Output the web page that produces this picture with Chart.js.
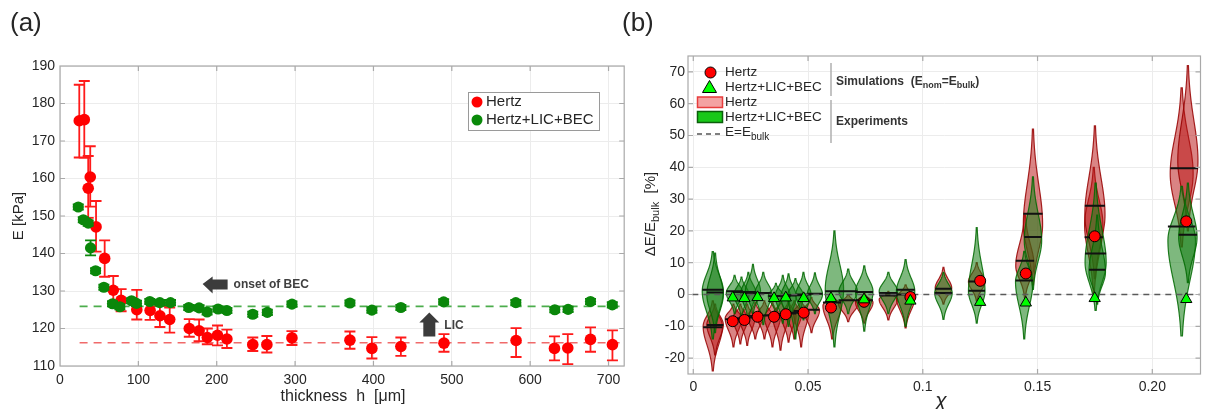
<!DOCTYPE html>
<html>
<head>
<meta charset="utf-8">
<script src="https://cdn.jsdelivr.net/npm/chart.js@4.4.1/dist/chart.umd.min.js"></script>
<style>
html, body { margin: 0; padding: 0; background: #fff; }
#wrap { position: relative; width: 1208px; height: 409px; overflow: hidden; }
.pane { position: absolute; top: 0; }
</style>
</head>
<body>
<div id="wrap">
  <div class="pane" style="left:0;width:630px;height:409px"><canvas id="chartA" width="630" height="409"></canvas></div>
  <div class="pane" style="left:620px;width:588px;height:409px"><canvas id="chartB" width="588" height="409"></canvas></div>
</div>
<script>
// ---------- panel (a) data ----------
var hertzH  = [24.6, 31, 36, 38.6, 46, 57, 68, 78, 98, 115, 127.5, 140, 165, 177.5, 188, 201, 213, 246, 264, 296, 370, 398, 435, 490, 582, 631, 648, 677, 705];
var hertzE  = [175.4, 175.7, 157.4, 160.4, 147.1, 138.7, 130.2, 127.5, 125.0, 124.8, 123.4, 122.4, 120.0, 119.4, 117.6, 118.2, 117.2, 115.7, 115.7, 117.5, 116.9, 114.7, 115.2, 116.1, 116.8, 114.7, 114.8, 117.1, 115.7];
var hertzLo = [165.6, 165.5, 149.5, 152.5, 140.5, 133.8, 126.5, 124.6, 122.4, 122.3, 120.4, 118.9, 117.8, 116.6, 115.8, 115.5, 114.8, 114.0, 113.6, 115.6, 114.6, 112.0, 112.7, 113.8, 112.4, 111.5, 110.5, 113.8, 111.5];
var hertzHi = [185.0, 186.0, 166.0, 168.6, 154.0, 143.5, 134.0, 130.5, 130.3, 126.9, 126.1, 125.6, 122.5, 122.4, 120.0, 120.8, 119.7, 117.6, 118.0, 119.3, 119.2, 117.7, 117.6, 118.5, 120.1, 117.9, 118.5, 120.3, 119.5];

var licH   = [23.3, 29.7, 36, 39, 45.4, 56, 67, 76.4, 91.3, 97.6, 114.6, 127.4, 141, 164.3, 177.5, 187.7, 201.7, 213, 246, 264.6, 296, 370, 398, 435, 489.6, 581.7, 631.4, 648.4, 677, 704.8];
var licE   = [152.4, 149.0, 148.1, 141.5, 135.4, 131.0, 126.6, 125.8, 127.4, 126.7, 127.2, 126.9, 126.9, 125.6, 125.5, 124.4, 125.2, 124.8, 123.8, 124.3, 126.5, 126.8, 124.9, 125.6, 127.1, 126.9, 125.0, 125.1, 127.2, 126.3];
var licErr = [0.7, 0.7, 0.7, 2.0, 0.7, 0.7, 0.7, 0.7, 0.7, 0.7, 0.7, 0.7, 0.7, 0.7, 0.7, 0.7, 0.7, 0.7, 0.7, 0.7, 0.7, 0.7, 0.7, 0.7, 0.7, 0.7, 0.7, 0.7, 0.7, 0.7];

var hertzBulk = 116.2;
var licBulk = 125.9;
var bulkRange = [25, 720];
var xTicksA = [0, 100, 200, 300, 400, 500, 600, 700];
var yTicksA = [110, 120, 130, 140, 150, 160, 170, 180, 190];

// ---------- panel (b) data ----------
var simChi   = [0.0172, 0.0223, 0.028, 0.0352, 0.0403, 0.0481, 0.060, 0.0744, 0.0946, 0.125, 0.1449, 0.1749, 0.2148];
var simHertz = [-8.4, -8.0, -7.0, -7.0, -6.2, -5.7, -4.1, -2.3, -0.8, 4.3, 6.6, 18.3, 23.0];
var simLic   = [-1.0, -1.2, -0.9, -1.2, -1.0, -1.2, -1.2, -1.6, -2.0, -2.4, -2.6, -1.2, -1.5];

// violins: [chi, min, max, mode, half width (chi units), median]
var hertzViolins = [
  [0.0085, -24, -2, -10, 0.0042, -10.3],
  [0.0095, -19, -3, -9.5, 0.0036, -9.6],
  [0.0175, -16.5, -3, -7.5, 0.0036, -7.8],
  [0.0205, -15.5, -3, -7.5, 0.0033, -7.5],
  [0.0235, -16, -3, -7.5, 0.0033, -7.2],
  [0.027, -14, -2.5, -7, 0.0033, -6.8],
  [0.031, -14, -2, -6.5, 0.0033, -6.6],
  [0.0345, -16.5, -2.5, -7, 0.0035, -6.5],
  [0.038, -17.5, -2, -6.5, 0.0035, -6.2],
  [0.0415, -15, -2, -6.5, 0.0033, -6.0],
  [0.044, -14, -2, -6, 0.0033, -5.7],
  [0.047, -16.5, -2, -5.5, 0.0033, -5.2],
  [0.0515, -12, -1, -5, 0.0035, -4.8],
  [0.0605, -14, 0, -3.5, 0.0040, -2.5],
  [0.0675, -8.5, 0, -3, 0.0042, -1.8],
  [0.0745, -9, 0.5, -2.5, 0.0038, -1.8],
  [0.085, -8, 1, -1.5, 0.0040, -0.3],
  [0.0925, -10.5, 3, -1, 0.0040, 0],
  [0.109, -3, 8.5, 2, 0.0036, 1.8],
  [0.1235, -2, 10, 4, 0.0036, 4.1],
  [0.1445, -1, 25, 9, 0.0040, 10.6],
  [0.148, 3, 52, 22, 0.0042, 25.4],
  [0.1745, 0, 40, 22, 0.0040, 18],
  [0.175, 5, 53, 25, 0.0044, 27.9],
  [0.2128, 15, 65, 38, 0.0050, 39.7],
  [0.2155, 20, 72, 42, 0.0044, 39.7]
];
var licViolins = [
  [0.0085, -14, 13.5, 1, 0.0046, 1.5],
  [0.0095, -12, 13, 0, 0.0036, 0.6],
  [0.018, -6, 6, 0.5, 0.0036, 1],
  [0.021, -7, 5.5, 0, 0.0033, 0.8],
  [0.024, -8, 7, 0.5, 0.0033, 0.8],
  [0.026, -6, 9.5, 1, 0.0033, 0.5],
  [0.0305, -9.5, 7, 0.5, 0.0036, 0.5],
  [0.036, -6, 3.5, -0.5, 0.0033, -0.5],
  [0.039, -9, 6, -0.5, 0.0033, -0.5],
  [0.0415, -10, 6.5, -0.5, 0.0033, -0.3],
  [0.0445, -14, 5, 0, 0.0033, -0.2],
  [0.048, -8, 7, 0, 0.0033, 0],
  [0.053, -6, 6.8, 0, 0.0033, 0.2],
  [0.0615, -16.5, 20, 1.5, 0.0040, 1],
  [0.0675, -6, 8, 1, 0.0040, 1],
  [0.0745, -11.5, 9, 1, 0.0038, 0.8],
  [0.085, -6, 7, 1, 0.0040, 0.5],
  [0.0925, -10, 11, 1, 0.0040, 1.5],
  [0.109, -7.8, 7, 0.5, 0.0038, 0.5],
  [0.1235, -9, 21, 1, 0.0036, 1.2],
  [0.1442, -14, 13.6, 4, 0.0038, 4.4],
  [0.148, 1.6, 37, 17, 0.0038, 18.1],
  [0.1753, -5, 35, 10, 0.0046, 12.9],
  [0.176, -3, 25, 7, 0.0036, 7.8],
  [0.2128, -13, 34, 17, 0.0060, 21.4],
  [0.2155, 3.7, 35, 18, 0.0040, 18.8]
];
var xTicksB = [0, 0.05, 0.1, 0.15, 0.2];
var xTickLabelsB = ['0', '0.05', '0.1', '0.15', '0.20'];
var yTicksB = [-20, -10, 0, 10, 20, 30, 40, 50, 60, 70];

var FONT = "'Liberation Sans', Arial, sans-serif";
var TXT = '#262626';
Chart.defaults.font.family = FONT;
Chart.defaults.color = TXT;

function pts(xs, ys) {
    return xs.map(function (x, i) { return { x: x, y: ys[i] }; });
}

function richText(ctx, parts, x, y, size, weight) {
    var cx = x;
    parts.forEach(function (p) {
        var sub = p[1];
        ctx.font = weight + ' ' + (sub ? Math.round(size * 0.72) : size) + 'px ' + FONT;
        ctx.fillText(p[0], cx, sub ? y + size * 0.32 : y);
        cx += ctx.measureText(p[0]).width;
    });
    return cx - x;
}

function richWidth(ctx, parts, size, weight) {
    var w = 0;
    parts.forEach(function (p) {
        ctx.font = weight + ' ' + (p[1] ? Math.round(size * 0.72) : size) + 'px ' + FONT;
        w += ctx.measureText(p[0]).width;
    });
    return w;
}

function drawBox(chart, xt, yt) {
    var a = chart.chartArea, ctx = chart.ctx;
    var xs = chart.scales.x, ys = chart.scales.y;
    ctx.save();
    ctx.strokeStyle = '#a9a9a9';
    ctx.lineWidth = 1.2;
    ctx.strokeRect(a.left, a.top, a.right - a.left, a.bottom - a.top);
    ctx.beginPath();
    xt.forEach(function (v) {
        var px = xs.getPixelForValue(v);
        if (px <= a.left + 1 || px >= a.right - 1) return;
        ctx.moveTo(px, a.top); ctx.lineTo(px, a.top + 5);
        ctx.moveTo(px, a.bottom); ctx.lineTo(px, a.bottom - 5);
    });
    yt.forEach(function (v) {
        var py = ys.getPixelForValue(v);
        if (py <= a.top + 1 || py >= a.bottom - 1) return;
        ctx.moveTo(a.left, py); ctx.lineTo(a.left + 5, py);
        ctx.moveTo(a.right, py); ctx.lineTo(a.right - 5, py);
    });
    ctx.stroke();
    ctx.restore();
}

// error bars drawn just before their own dataset
var errorBars = {
    id: 'errorBars',
    beforeDatasetDraw: function (chart, args) {
        var ds = chart.data.datasets[args.index];
        if (!ds.errLo) return;
        var ctx = chart.ctx, ys = chart.scales.y;
        ctx.save();
        ctx.strokeStyle = ds.errColor;
        ctx.lineWidth = 1.8;
        ctx.beginPath();
        args.meta.data.forEach(function (el, i) {
            var y1 = ys.getPixelForValue(ds.errLo[i]);
            var y2 = ys.getPixelForValue(ds.errHi[i]);
            ctx.moveTo(el.x, y1); ctx.lineTo(el.x, y2);
            ctx.moveTo(el.x - ds.capW, y1); ctx.lineTo(el.x + ds.capW, y1);
            ctx.moveTo(el.x - ds.capW, y2); ctx.lineTo(el.x + ds.capW, y2);
        });
        ctx.stroke();
        ctx.restore();
    }
};

var decorA = {
    id: 'decorA',
    afterDraw: function (chart) {
        var ctx = chart.ctx, xs = chart.scales.x, ys = chart.scales.y;
        drawBox(chart, xTicksA, yTicksA);
        ctx.save();
        ctx.fillStyle = TXT;

        // panel letter
        ctx.font = '26px ' + FONT;
        ctx.fillText('(a)', 10, 31);
        ctx.textBaseline = 'middle';

        // axis titles
        ctx.font = '16px ' + FONT;
        ctx.textAlign = 'center';
        ctx.fillText('thickness  h  [\u03bcm]', 343, 397);
        ctx.save();
        ctx.translate(19, 216);
        ctx.rotate(-Math.PI / 2);
        ctx.font = '15px ' + FONT;
        ctx.fillText('E [kPa]', 0, 0);
        ctx.restore();
        ctx.textAlign = 'left';

        // onset of BEC arrow (left)
        var tx = xs.getPixelForValue(182), ty = ys.getPixelForValue(131.9);
        ctx.fillStyle = '#3c3c3c';
        ctx.beginPath();
        ctx.moveTo(tx, ty);
        ctx.lineTo(tx + 10, ty - 7.5);
        ctx.lineTo(tx + 10, ty - 4.5);
        ctx.lineTo(tx + 25, ty - 4.5);
        ctx.lineTo(tx + 25, ty + 5.5);
        ctx.lineTo(tx + 10, ty + 5.5);
        ctx.lineTo(tx + 10, ty + 9.5);
        ctx.closePath();
        ctx.fill();
        ctx.fillStyle = '#404040';
        ctx.font = 'bold 12px ' + FONT;
        ctx.fillText('onset of BEC', tx + 31, ty + 1);

        // LIC arrow (up)
        var ux = xs.getPixelForValue(471.3), uy = ys.getPixelForValue(124.3);
        ctx.fillStyle = '#3c3c3c';
        ctx.beginPath();
        ctx.moveTo(ux, uy);
        ctx.lineTo(ux + 10, uy + 10);
        ctx.lineTo(ux + 6, uy + 10);
        ctx.lineTo(ux + 6, uy + 24);
        ctx.lineTo(ux - 6, uy + 24);
        ctx.lineTo(ux - 6, uy + 10);
        ctx.lineTo(ux - 10, uy + 10);
        ctx.closePath();
        ctx.fill();
        ctx.fillStyle = '#404040';
        ctx.fillText('LIC', ux + 15, uy + 13);

        // legend
        ctx.fillStyle = '#fff';
        ctx.fillRect(468, 92, 131, 38);
        ctx.strokeStyle = '#9a9a9a';
        ctx.lineWidth = 1;
        ctx.strokeRect(468.5, 92.5, 131, 38);
        ctx.fillStyle = '#ff0000';
        ctx.beginPath(); ctx.arc(477, 102, 5.5, 0, Math.PI * 2); ctx.fill();
        ctx.fillStyle = '#0a8a0a';
        ctx.beginPath(); ctx.arc(477, 120, 5.5, 0, Math.PI * 2); ctx.fill();
        ctx.fillStyle = TXT;
        ctx.font = '15px ' + FONT;
        ctx.fillText('Hertz', 486, 102);
        ctx.fillText('Hertz+LIC+BEC', 486, 120);
        ctx.restore();
    }
};

new Chart(document.getElementById('chartA').getContext('2d'), {
    type: 'scatter',
    data: {
        datasets: [{
            label: 'Hertz',
            data: pts(hertzH, hertzE),
            pointRadius: 5.8,
            backgroundColor: '#ff0000',
            borderWidth: 0,
            errLo: hertzLo,
            errHi: hertzHi,
            errColor: '#ff1a1a',
            capW: 5.5,
            order: 5
        }, {
            label: 'Hertz+LIC+BEC',
            data: pts(licH, licE),
            pointRadius: 5.6,
            backgroundColor: '#0a870a',
            borderWidth: 0,
            errLo: licE.map(function (v, i) { return v - licErr[i]; }),
            errHi: licE.map(function (v, i) { return v + licErr[i]; }),
            errColor: '#0a870a',
            capW: 5.5,
            order: 1
        }, {
            label: 'Hertz bulk',
            data: pts(bulkRange, [hertzBulk, hertzBulk]),
            showLine: true,
            pointRadius: 0,
            borderColor: '#f06a6a',
            borderWidth: 1.6,
            borderDash: [8, 6],
            order: 10
        }, {
            label: 'LIC bulk',
            data: pts(bulkRange, [licBulk, licBulk]),
            showLine: true,
            pointRadius: 0,
            borderColor: '#4cad4c',
            borderWidth: 1.6,
            borderDash: [8, 6],
            order: 10
        }]
    },
    options: {
        responsive: false,
        animation: false,
        events: [],
        layout: { padding: { left: 0, top: 66, right: 5, bottom: 0 } },
        plugins: { legend: { display: false }, tooltip: { enabled: false } },
        scales: {
            x: {
                type: 'linear', min: 0, max: 720,
                afterBuildTicks: function (s) { s.ticks = xTicksA.map(function (v) { return { value: v }; }); },
                afterFit: function (s) { s.height = 43; },
                ticks: { font: { size: 14 }, color: TXT, padding: 6, maxRotation: 0 },
                grid: { color: '#ececec', drawTicks: false },
                border: { display: false }
            },
            y: {
                type: 'linear', min: 110, max: 190,
                afterBuildTicks: function (s) { s.ticks = yTicksA.map(function (v) { return { value: v }; }); },
                afterFit: function (s) { s.width = 60; },
                ticks: { font: { size: 14 }, color: TXT, padding: 5 },
                grid: { color: '#ececec', drawTicks: false },
                border: { display: false }
            }
        }
    },
    plugins: [errorBars, decorA]
});

// ---------- panel (b) ----------
function violinPath(ctx, xs, ys, v) {
    var cx = v[0], lo = v[1], hi = v[2], mode = v[3], w = v[4];
    var n = 70, i, val, s, z, hw, left = [], right = [];
    for (i = 0; i <= n; i++) {
        val = lo + (hi - lo) * i / n;
        s = (val < mode ? (mode - lo) : (hi - mode)) / 2.4;
        z = s > 0 ? (val - mode) / s : 0;
        hw = w * Math.exp(-0.5 * z * z);
        var py = ys.getPixelForValue(val);
        right.push([xs.getPixelForValue(cx + hw), py]);
        left.push([xs.getPixelForValue(cx - hw), py]);
    }
    ctx.beginPath();
    right.forEach(function (p, k) { if (k === 0) ctx.moveTo(p[0], p[1]); else ctx.lineTo(p[0], p[1]); });
    for (i = left.length - 1; i >= 0; i--) ctx.lineTo(left[i][0], left[i][1]);
    ctx.closePath();
}

var violins = {
    id: 'violins',
    beforeDatasetsDraw: function (chart) {
        var ctx = chart.ctx, xs = chart.scales.x, ys = chart.scales.y, a = chart.chartArea;
        ctx.save();
        ctx.beginPath();
        ctx.rect(a.left, a.top, a.right - a.left, a.bottom - a.top);
        ctx.clip();
        ctx.lineWidth = 1.2;
        hertzViolins.forEach(function (v) {
            violinPath(ctx, xs, ys, v);
            ctx.fillStyle = 'rgba(185,20,20,0.52)';
            ctx.strokeStyle = 'rgba(150,0,0,0.85)';
            ctx.fill(); ctx.stroke();
        });
        licViolins.forEach(function (v) {
            violinPath(ctx, xs, ys, v);
            ctx.fillStyle = 'rgba(20,125,20,0.55)';
            ctx.strokeStyle = 'rgba(0,105,0,0.85)';
            ctx.fill(); ctx.stroke();
        });
        ctx.strokeStyle = '#111';
        ctx.lineWidth = 2;
        ctx.beginPath();
        hertzViolins.concat(licViolins).forEach(function (v) {
            var py = ys.getPixelForValue(v[5]);
            ctx.moveTo(xs.getPixelForValue(v[0] - v[4]), py);
            ctx.lineTo(xs.getPixelForValue(v[0] + v[4]), py);
        });
        ctx.stroke();
        ctx.restore();
    }
};

var decorB = {
    id: 'decorB',
    afterDraw: function (chart) {
        var ctx = chart.ctx, off = 620;
        drawBox(chart, xTicksB, yTicksB);
        ctx.save();
        ctx.translate(-off, 0);
        ctx.fillStyle = TXT;

        ctx.font = '26px ' + FONT;
        ctx.fillText('(b)', 622, 31);

        ctx.textBaseline = 'middle';
        // x title
        ctx.font = 'italic 21px ' + FONT;
        ctx.textAlign = 'center';
        ctx.fillText('\u03c7', 941, 401);
        ctx.textAlign = 'left';

        // y title
        var yt = [['\u0394E/E', false], ['bulk', true], ['  [%]', false]];
        var tw = richWidth(ctx, yt, 15, 'normal');
        ctx.save();
        ctx.translate(651, 214);
        ctx.rotate(-Math.PI / 2);
        richText(ctx, yt, -tw / 2, 0, 15, 'normal');
        ctx.restore();

        // legend
        ctx.fillStyle = '#ff0000';
        ctx.strokeStyle = '#000';
        ctx.lineWidth = 1;
        ctx.beginPath(); ctx.arc(710.5, 72.5, 5.5, 0, Math.PI * 2); ctx.fill(); ctx.stroke();
        ctx.fillStyle = '#00ff00';
        ctx.beginPath();
        ctx.moveTo(709.5, 80.5); ctx.lineTo(716.5, 92.5); ctx.lineTo(702.5, 92.5); ctx.closePath();
        ctx.fill(); ctx.stroke();
        ctx.fillStyle = '#f4a2a2';
        ctx.strokeStyle = '#e83c3c';
        ctx.lineWidth = 1.5;
        ctx.fillRect(697.5, 97, 25, 10.5); ctx.strokeRect(697.5, 97, 25, 10.5);
        ctx.fillStyle = '#19c819';
        ctx.strokeStyle = '#0b5e0b';
        ctx.fillRect(697.5, 111.5, 25, 11); ctx.strokeRect(697.5, 111.5, 25, 11);
        ctx.strokeStyle = '#555';
        ctx.lineWidth = 1.3;
        ctx.setLineDash([5, 4]);
        ctx.beginPath(); ctx.moveTo(697, 134); ctx.lineTo(723, 134); ctx.stroke();
        ctx.setLineDash([]);

        ctx.fillStyle = TXT;
        ctx.font = '13.5px ' + FONT;
        ctx.fillText('Hertz', 725, 72.5);
        ctx.fillText('Hertz+LIC+BEC', 725, 87);
        ctx.fillText('Hertz', 725, 102.3);
        ctx.fillText('Hertz+LIC+BEC', 725, 117);
        richText(ctx, [['E=E', false], ['bulk', true]], 725, 132.5, 13.5, 'normal');

        ctx.strokeStyle = '#b0b0b0';
        ctx.lineWidth = 1.5;
        ctx.beginPath();
        ctx.moveTo(831, 63); ctx.lineTo(831, 96);
        ctx.moveTo(831, 100); ctx.lineTo(831, 143);
        ctx.stroke();

        ctx.fillStyle = '#333';
        richText(ctx, [['Simulations  (E', false], ['nom', true], ['=E', false], ['bulk', true], [')', false]], 836, 81.5, 12, 'bold');
        richText(ctx, [['Experiments', false]], 836, 121.5, 12, 'bold');
        ctx.restore();
    }
};

new Chart(document.getElementById('chartB').getContext('2d'), {
    type: 'scatter',
    data: {
        datasets: [{
            label: 'E=Ebulk',
            data: pts([-0.01, 0.24], [0, 0]),
            showLine: true,
            pointRadius: 0,
            borderColor: '#5a5a5a',
            borderWidth: 1.6,
            borderDash: [6, 5],
            order: 10
        }, {
            label: 'Hertz',
            data: pts(simChi, simHertz),
            pointRadius: 5.5,
            pointStyle: 'circle',
            backgroundColor: '#ff0000',
            borderColor: '#000',
            borderWidth: 1,
            order: 5
        }, {
            label: 'Hertz+LIC+BEC',
            data: pts(simChi, simLic),
            pointRadius: 6.5,
            pointStyle: 'triangle',
            backgroundColor: '#00ff00',
            borderColor: '#000',
            borderWidth: 1,
            order: 1
        }]
    },
    options: {
        responsive: false,
        animation: false,
        events: [],
        layout: { padding: { left: 0, top: 56, right: 2, bottom: 0 } },
        plugins: { legend: { display: false }, tooltip: { enabled: false } },
        scales: {
            x: {
                type: 'linear', min: -0.0023, max: 0.2210,
                afterBuildTicks: function (s) { s.ticks = xTicksB.map(function (v) { return { value: v }; }); },
                afterFit: function (s) { s.height = 35; },
                ticks: {
                    font: { size: 14 }, color: TXT, padding: 5, maxRotation: 0,
                    callback: function (v) { var i = xTicksB.indexOf(v); return i >= 0 ? xTickLabelsB[i] : ''; }
                },
                grid: { color: '#ececec', drawTicks: false },
                border: { display: false }
            },
            y: {
                type: 'linear', min: -25, max: 75,
                afterBuildTicks: function (s) { s.ticks = yTicksB.map(function (v) { return { value: v }; }); },
                afterFit: function (s) { s.width = 68; },
                ticks: { font: { size: 14 }, color: TXT, padding: 3 },
                grid: { color: '#ececec', drawTicks: false },
                border: { display: false }
            }
        }
    },
    plugins: [violins, decorB]
});
</script>
</body>
</html>
